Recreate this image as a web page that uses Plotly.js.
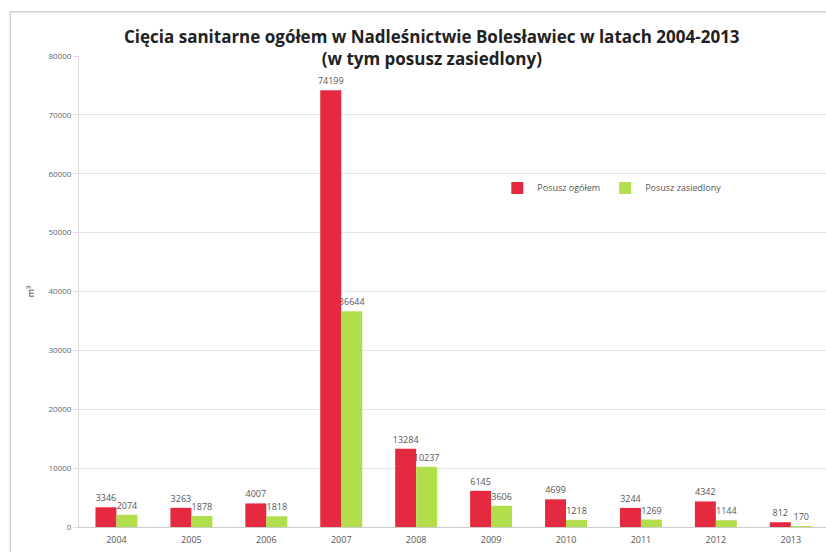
<!DOCTYPE html>
<html>
<head>
<meta charset="utf-8">
<script src="https://cdn.plot.ly/plotly-3.0.1.min.js"></script>
<style>html,body{margin:0;padding:0;background:#fff;}#chart{width:826px;height:552px;}</style>
</head>
<body>
<div id="chart"></div>
<script>
const years = ["2004","2005","2006","2007","2008","2009","2010","2011","2012","2013"];
const posuszOgolem = [3346, 3263, 4007, 74199, 13284, 6145, 4699, 3244, 4342, 812];
const posuszZasiedlony = [2074, 1878, 1818, 36644, 10237, 3606, 1218, 1269, 1144, 170];
const seriesNames = ["Posusz ogółem", "Posusz zasiedlony"];
const yTicks = [0, 10000, 20000, 30000, 40000, 50000, 60000, 70000, 80000];

const labelFont = {family: "Open Sans, sans-serif", size: 9, color: "#555"};

const traces = [
  {type: "bar", x: years, y: posuszOgolem, name: seriesNames[0],
   marker: {color: "#E52A40"}, text: posuszOgolem.map(String),
   textposition: "outside", textfont: labelFont, cliponaxis: false, constraintext: "none"},
  {type: "bar", x: years, y: posuszZasiedlony, name: seriesNames[1],
   marker: {color: "#B2DE4C"}, text: posuszZasiedlony.map(String),
   textposition: "outside", textfont: labelFont, cliponaxis: false, constraintext: "none"}
];

const layout = {
  width: 826, height: 552,
  margin: {l: 79, r: 0, t: 56, b: 25},
  paper_bgcolor: "#fff", plot_bgcolor: "#fff",
  barmode: "group", bargap: 0.44, bargroupgap: 0,
  xaxis: {
    type: "category", range: [-0.5, 9.47],
    showgrid: false, showline: true, linecolor: "#ccc",
    ticks: "", tickfont: {family: "Open Sans, sans-serif", size: 9, color: "#555"},
    ticklabelstandoff: 4
  },
  yaxis: {
    range: [0, 80000], tickvals: yTicks, ticktext: yTicks.map(String),
    showgrid: true, gridcolor: "#e3e3e3", zeroline: false,
    showline: true, linecolor: "#ddd",
    ticks: "outside", ticklen: 5, tickcolor: "#ddd",
    tickfont: {family: "Open Sans, sans-serif", size: 8, color: "#666"},
    title: {text: "m³", font: {family: "Open Sans, sans-serif", size: 9, color: "#333"}, standoff: 12}
  },
  legend: {
    orientation: "h", x: 0.56, y: 0.72, xanchor: "left", yanchor: "middle",
    font: {family: "Open Sans, sans-serif", size: 9, color: "#555"},
    bgcolor: "rgba(0,0,0,0)", traceorder: "normal"
  },
  showlegend: true,
  annotations: [
    {text: "<b>Cięcia sanitarne ogółem w Nadleśnictwie Bolesławiec w latach 2004-2013<br>(w tym posusz zasiedlony)</b>",
     xref: "paper", yref: "paper", x: 0.473, y: 1.019, xanchor: "center", yanchor: "middle",
     showarrow: false, font: {family: "Open Sans, sans-serif", size: 17, color: "#222"}}
  ],
  shapes: [
    {type: "rect", xref: "paper", yref: "paper", x0: -0.092, x1: 1.02, y0: -0.08, y1: 1.094,
     line: {color: "#cfcfcf", width: 1.5}, fillcolor: "rgba(0,0,0,0)"}
  ]
};

Plotly.newPlot("chart", traces, layout, {displayModeBar: false, staticPlot: true});
</script>
</body>
</html>
